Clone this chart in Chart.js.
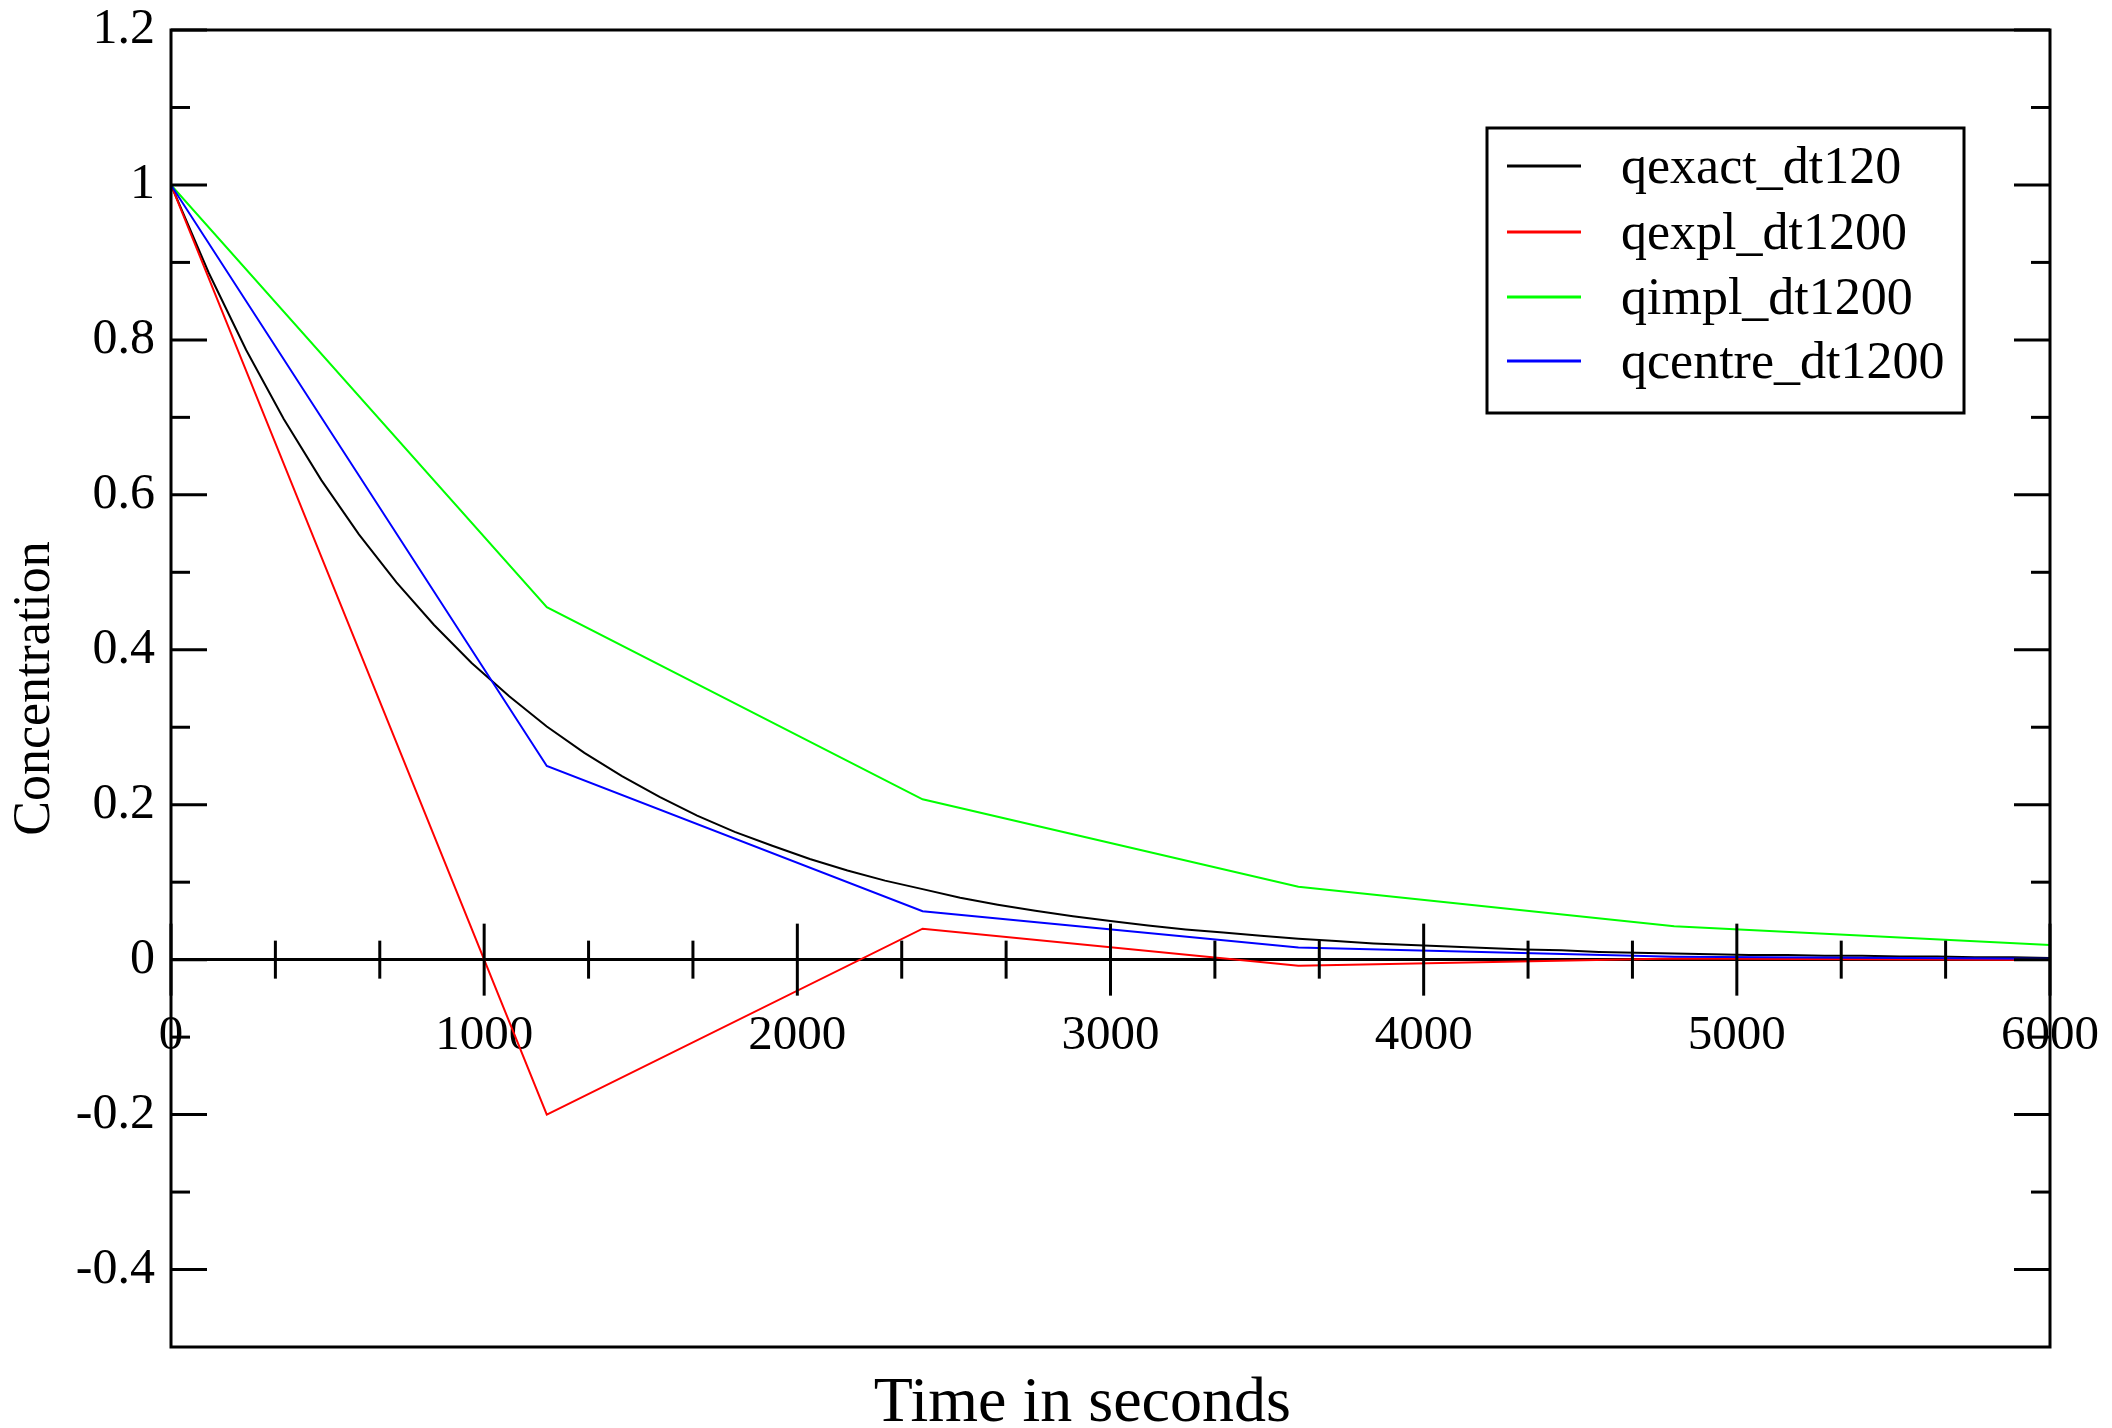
<!DOCTYPE html>
<html>
<head>
<meta charset="utf-8">
<title>Concentration vs time</title>
<script src="https://cdn.jsdelivr.net/npm/chart.js@4/dist/chart.umd.min.js"></script>
<style>
    html, body { margin: 0; padding: 0; background: #fff; }
    canvas { display: block; }
</style>
</head>
<body>
<canvas id="chart" width="2112" height="1428"></canvas>
<script>
const SERIF = '"Liberation Serif", "DejaVu Serif", serif';

// fine time grid for the exact solution (s)
const tExact = [0, 120, 240, 360, 480, 600, 720, 840, 960, 1080, 1200, 1320, 1440, 1560, 1680, 1800,
    1920, 2040, 2160, 2280, 2400, 2520, 2640, 2760, 2880, 3000, 3120, 3240, 3360, 3480, 3600, 3720,
    3840, 3960, 4080, 4200, 4320, 4440, 4560, 4680, 4800, 4920, 5040, 5160, 5280, 5400, 5520, 5640,
    5760, 5880, 6000];
const qExact = [1, 0.887, 0.787, 0.698, 0.619, 0.549, 0.487, 0.432, 0.383, 0.340, 0.301, 0.267,
    0.237, 0.210, 0.186, 0.165, 0.147, 0.130, 0.115, 0.102, 0.091, 0.080, 0.071, 0.063, 0.056, 0.050,
    0.044, 0.039, 0.035, 0.031, 0.027, 0.024, 0.021, 0.019, 0.017, 0.015, 0.013, 0.012, 0.010, 0.009,
    0.008, 0.007, 0.006, 0.006, 0.005, 0.005, 0.004, 0.004, 0.003, 0.003, 0.002];

// coarse time grid, dt = 1200 s
const tCoarse = [0, 1200, 2400, 3600, 4800, 6000];
const qExpl = [1, -0.2, 0.04, -0.008, 0.0016, -0.0003];
const qImpl = [1, 0.455, 0.207, 0.094, 0.043, 0.019];
const qCentre = [1, 0.25, 0.0625, 0.0156, 0.0039, 0.001];

const xTickValues = [0, 1000, 2000, 3000, 4000, 5000, 6000];
const yTickValues = [-0.4, -0.2, 0, 0.2, 0.4, 0.6, 0.8, 1, 1.2];

const pairs = (xs, ys) => xs.map((x, i) => ({ x, y: ys[i] }));

const makeSet = (label, xs, ys, color, order) => ({
    label,
    data: pairs(xs, ys),
    borderColor: color,
    backgroundColor: color,
    borderWidth: 2,
    pointRadius: 0,
    showLine: true,
    tension: 0,
    order
});

// keep the plot box where the layout padding puts it
const noScalePadding = (scale) => {
    scale.paddingTop = 0;
    scale.paddingBottom = 0;
    scale.paddingLeft = 0;
    scale.paddingRight = 0;
};

// xmgrace style: frame, inward ticks on both sides, x ticks crossing the zero line
const graceAxes = {
    id: 'graceAxes',
    afterDatasetsDraw(chart) {
        const { ctx, chartArea: a, scales: { x, y } } = chart;
        const MAJOR = 36, MINOR = 19;
        ctx.save();
        ctx.strokeStyle = '#000';
        ctx.lineWidth = 3;
        ctx.lineCap = 'butt';

        const line = (x1, y1, x2, y2) => {
            ctx.beginPath();
            ctx.moveTo(x1, y1);
            ctx.lineTo(x2, y2);
            ctx.stroke();
        };

        // y ticks, major on labels and minor halfway between
        yTickValues.forEach((v, i) => {
            const py = y.getPixelForValue(v);
            line(a.left, py, a.left + MAJOR, py);
            line(a.right, py, a.right - MAJOR, py);
            if (i > 0) {
                const pm = y.getPixelForValue((v + yTickValues[i - 1]) / 2);
                line(a.left, pm, a.left + MINOR, pm);
                line(a.right, pm, a.right - MINOR, pm);
            }
        });

        // x ticks on the zero line, two minor ticks per interval
        const y0 = y.getPixelForValue(0);
        xTickValues.forEach((v, i) => {
            const px = x.getPixelForValue(v);
            line(px, y0 - MAJOR, px, y0 + MAJOR);
            if (i > 0) {
                const prev = xTickValues[i - 1];
                for (let k = 1; k < 3; k++) {
                    const pm = x.getPixelForValue(prev + (v - prev) * k / 3);
                    line(pm, y0 - MINOR, pm, y0 + MINOR);
                }
            }
        });

        ctx.strokeRect(a.left, a.top, a.right - a.left, a.bottom - a.top);
        ctx.restore();
    },
    afterDraw(chart) {
        const { ctx, chartArea: a } = chart;
        ctx.save();

        // x axis title sits at the bottom, not at the zero line
        ctx.fillStyle = '#000';
        ctx.font = `64px ${SERIF}`;
        ctx.textAlign = 'center';
        ctx.textBaseline = 'alphabetic';
        ctx.fillText('Time in seconds', a.left + (a.right - a.left) * 0.485, 1421);

        // legend box, top right
        const box = { left: 1487, top: 128, right: 1964, bottom: 413 };
        const rows = [166, 232, 297, 361];
        ctx.fillStyle = '#fff';
        ctx.fillRect(box.left, box.top, box.right - box.left, box.bottom - box.top);
        ctx.strokeStyle = '#000';
        ctx.lineWidth = 3;
        ctx.strokeRect(box.left, box.top, box.right - box.left, box.bottom - box.top);

        ctx.font = `52px ${SERIF}`;
        ctx.textAlign = 'left';
        ctx.textBaseline = 'middle';
        chart.data.datasets.forEach((ds, i) => {
            const ry = rows[i];
            ctx.strokeStyle = ds.borderColor;
            ctx.lineWidth = 3;
            ctx.beginPath();
            ctx.moveTo(1507, ry);
            ctx.lineTo(1581, ry);
            ctx.stroke();
            ctx.fillStyle = '#000';
            ctx.fillText(ds.label, 1621, ry + 3);
        });
        ctx.restore();
    }
};

Chart.defaults.font.family = SERIF;
Chart.defaults.color = '#000';

const ctx = document.getElementById('chart').getContext('2d');

new Chart(ctx, {
    type: 'scatter',
    data: {
        datasets: [
            makeSet('qexact_dt120', tExact, qExact, '#000000', 4),
            makeSet('qexpl_dt1200', tCoarse, qExpl, '#ff0000', 3),
            makeSet('qimpl_dt1200', tCoarse, qImpl, '#00ff00', 2),
            makeSet('qcentre_dt1200', tCoarse, qCentre, '#0000ff', 1)
        ]
    },
    options: {
        responsive: false,
        animation: false,
        devicePixelRatio: 1,
        layout: {
            padding: { left: 0, top: 30, right: 62, bottom: 81 }
        },
        plugins: {
            legend: { display: false },
            tooltip: { enabled: false }
        },
        events: [],
        scales: {
            x: {
                type: 'linear',
                position: { y: 0 },
                min: 0,
                max: 6000,
                afterBuildTicks: (scale) => {
                    scale.ticks = xTickValues.map((v) => ({ value: v }));
                },
                afterFit: (scale) => {
                    scale.height = 0;
                    noScalePadding(scale);
                },
                ticks: {
                    autoSkip: false,
                    maxRotation: 0,
                    padding: 47,
                    font: { size: 49 },
                    color: '#000',
                    callback: (v) => String(v)
                },
                grid: { display: false, drawTicks: false },
                border: { display: true, color: '#000', width: 3 }
            },
            y: {
                type: 'linear',
                position: 'left',
                min: -0.5,
                max: 1.2,
                afterBuildTicks: (scale) => {
                    scale.ticks = yTickValues.map((v) => ({ value: v }));
                },
                afterFit: (scale) => {
                    scale.width = 171;
                    noScalePadding(scale);
                },
                ticks: {
                    autoSkip: false,
                    padding: 16,
                    font: { size: 50 },
                    color: '#000',
                    callback: (v) => String(v)
                },
                grid: { display: false, drawTicks: false },
                border: { display: false },
                title: {
                    display: true,
                    text: 'Concentration',
                    font: { size: 52 },
                    color: '#000',
                    padding: { top: 4, bottom: 0 }
                }
            }
        }
    },
    plugins: [graceAxes]
});
</script>
</body>
</html>
